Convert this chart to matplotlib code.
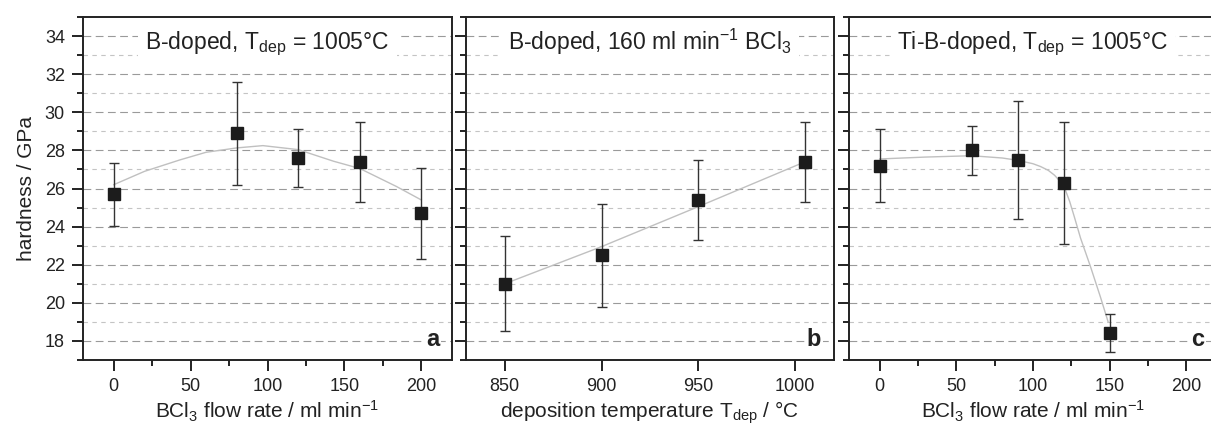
import matplotlib.pyplot as plt
from matplotlib.ticker import MultipleLocator

plt.rcParams['font.family'] = ['Liberation Sans', 'DejaVu Sans']
plt.rcParams['mathtext.fontset'] = 'custom'
plt.rcParams['mathtext.rm'] = 'Liberation Sans'
plt.rcParams['mathtext.it'] = 'Liberation Sans:italic'
plt.rcParams['mathtext.bf'] = 'Liberation Sans:bold'

# panel a: B-doped, T_dep = 1005 C
a_flow = [0, 80, 120, 160, 200]
a_hard = [25.7, 28.9, 27.6, 27.4, 24.7]
a_err = [1.65, 2.7, 1.5, 2.1, 2.4]
a_fit_x = [0, 20, 43, 60, 80, 97, 120, 143, 160, 184, 200]
a_fit_y = [26.2, 26.9, 27.5, 27.9, 28.13, 28.25, 28.04, 27.43, 27.05, 26.1, 25.4]

# panel b: B-doped, 160 ml/min BCl3
b_temp = [850, 900, 950, 1005]
b_hard = [21.0, 22.5, 25.4, 27.4]
b_err = [2.5, 2.7, 2.1, 2.1]
b_fit_x = [850, 900, 950, 1005]
b_fit_y = [21.0, 22.95, 25.05, 27.4]

# panel c: Ti-B-doped, T_dep = 1005 C
c_flow = [0, 60, 90, 120, 150]
c_hard = [27.2, 28.0, 27.5, 26.3, 18.4]
c_err = [1.9, 1.3, 3.1, 3.2, 1.0]
c_fit_x = [0, 30, 60, 80, 90, 100, 105, 110, 114, 118, 121, 124, 127, 131, 137.5, 144, 149]
c_fit_y = [27.55, 27.65, 27.72, 27.6, 27.48, 27.3, 27.15, 26.95, 26.7, 26.35, 25.95, 25.3, 24.5, 23.4, 21.9, 20.3, 19.0]

titles = [r'B-doped, T$_{\mathrm{dep}}$ = 1005°C',
          r'B-doped, 160 ml min$^{\mathrm{-1}}$ BCl$_{\mathrm{3}}$',
          r'Ti-B-doped, T$_{\mathrm{dep}}$ = 1005°C']
xlabels = [r'BCl$_{\mathrm{3}}$ flow rate / ml min$^{\mathrm{-1}}$',
           r'deposition temperature T$_{\mathrm{dep}}$ / °C',
           r'BCl$_{\mathrm{3}}$ flow rate / ml min$^{\mathrm{-1}}$']
letters = ['a', 'b', 'c']

dark = '#222222'
fig = plt.figure(figsize=(12.11, 4.30), dpi=100)
bottom, height = 70 / 430, 343 / 430
lefts = [83, 466, 849]
widths = [369, 368, 368]

panels = [(a_flow, a_hard, a_err, a_fit_x, a_fit_y, (-20, 220)),
          (b_temp, b_hard, b_err, b_fit_x, b_fit_y, (830, 1020)),
          (c_flow, c_hard, c_err, c_fit_x, c_fit_y, (-20, 220))]

for i, (x, y, e, fx, fy, xl) in enumerate(panels):
    ax = fig.add_axes([lefts[i] / 1211, bottom, widths[i] / 1211, height])
    ax.set_xlim(*xl)
    ax.set_ylim(17, 35)
    ax.yaxis.set_major_locator(MultipleLocator(2))
    ax.yaxis.set_minor_locator(MultipleLocator(1))
    ax.xaxis.set_major_locator(MultipleLocator(50))
    if i != 1:
        ax.xaxis.set_minor_locator(MultipleLocator(25))

    for yv in range(18, 35, 2):
        ax.axhline(yv, color='#9a9a9a', lw=0.8, dashes=(7, 4), zorder=0)
    for yv in range(19, 35, 2):
        ax.axhline(yv, color='#c4c4c4', lw=0.8, dashes=(4, 4), zorder=0)

    ax.plot(fx, fy, color='#c0c0c0', lw=1.0, zorder=1)
    ax.errorbar(x, y, yerr=e, fmt='s', color='#1c1c1c', ms=8.5, ecolor='#333333',
                elinewidth=1.0, capsize=3.5, capthick=1.0, zorder=3)

    for s in ax.spines.values():
        s.set_linewidth(1.4)
        s.set_color(dark)
    ax.tick_params(axis='both', which='major', direction='out', length=8, width=1.4,
                   color=dark, labelsize=13, pad=5, labelcolor=dark)
    ax.tick_params(axis='both', which='minor', direction='out', length=4.5, width=1.4, color=dark)
    if i > 0:
        ax.tick_params(axis='y', labelleft=False)
    else:
        ax.set_ylabel('hardness / GPa', fontsize=15, color=dark, labelpad=6)

    ax.set_xlabel(xlabels[i], fontsize=15, color=dark, labelpad=3)
    ax.text(0.5, 0.905, titles[i], transform=ax.transAxes, ha='center', va='baseline',
            fontsize=16.5, color=dark, zorder=4,
            bbox=dict(fc='white', ec='none', pad=5))
    ax.text(0.965, 0.042, letters[i], transform=ax.transAxes, ha='right', va='baseline',
            fontsize=17, fontweight='bold', color=dark, zorder=4,
            bbox=dict(fc='white', ec='none', pad=1))

fig.savefig('out.png', dpi=100)
